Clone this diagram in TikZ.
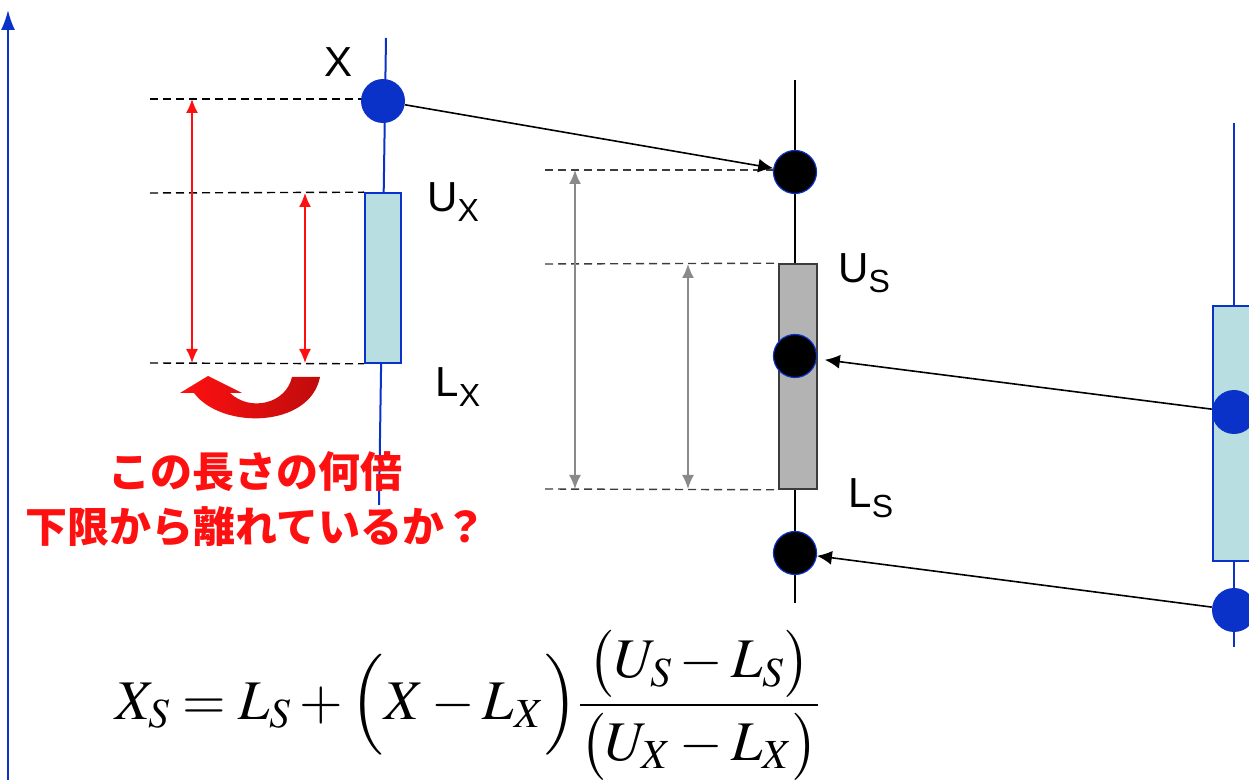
\documentclass[tikz,border=0pt]{standalone}
\usepackage{mathptmx}
\usepackage[no-math]{fontspec}
\setmainfont{Liberation Sans}
\newfontfamily\jp{Noto Sans CJK JP}
\usetikzlibrary{arrows.meta,backgrounds}
\definecolor{bl}{HTML}{0A32C8}
\definecolor{bf}{HTML}{B8DEE2}
\definecolor{gf}{HTML}{B3B3B3}
\definecolor{gb}{HTML}{3C3C3C}
\definecolor{ga}{HTML}{8A8A8A}
\definecolor{rd}{HTML}{FF1010}
\newcommand{\lab}[2]{#1\raisebox{-0.45ex}{\fontsize{16}{16}\selectfont #2}}

\begin{document}
\begin{tikzpicture}[x=0.5pt,y=-0.5pt,font=\fontsize{21}{24}\selectfont,
  bdot/.style={circle,fill=bl,inner sep=0pt,minimum size=22pt},
  kdot/.style={circle,fill=black,draw=bl,line width=0.6pt,inner sep=0pt,minimum size=21.5pt},
  xb/.style={draw=bl,fill=bf,line width=0.8pt,inner sep=0pt},
  sb/.style={draw=gb,fill=gf,line width=0.8pt,inner sep=0pt},
  lb/.style={anchor=base west,inner sep=0pt},
  dl/.style={dash pattern=on 4pt off 2.5pt,line width=0.7pt},
  ra/.style={{Latex[length=7pt,width=6pt]}-{Latex[length=7pt,width=6pt]},rd,line width=0.7pt},
  ga2/.style={{Latex[length=7pt,width=6pt]}-{Latex[length=7pt,width=6pt]},ga,line width=0.8pt},
  ba/.style={-{Latex[length=7.5pt,width=7pt]},line width=0.8pt}]
\useasboundingbox (0,0) rectangle (1249,780);
% value axis
\coordinate (ab) at (8,782);
\coordinate (at) at (8,10);
\draw[bl,line width=1pt,-{Latex[length=10pt,width=7pt]}] (ab) -- (at);
% left column (X)
\coordinate (xt) at (386,38);
\coordinate (xe) at (379,505);
\draw[bl,line width=1pt] (xt) -- (xe);
\node[xb,minimum width=18pt,minimum height=85pt] (bx) at (383,278) {};
\node[bdot] (x) at (383,101) {};
\node (xl) at (339,62) {X};
\node[lb] (ux) at (427,212) {\lab{U}{X}};
\node[lb] (lx) at (435,397) {\lab{L}{X}};
% middle column (S)
\coordinate (st) at (795,80);
\coordinate (se) at (795,603);
\draw[line width=0.8pt] (st) -- (se);
\node[sb,minimum width=19pt,minimum height=112.5pt] (bs) at (798,376.5) {};
\node[kdot] (s1) at (795,172) {};
\node[kdot] (s2) at (795,356) {};
\node[kdot] (s3) at (795,553) {};
\node[lb] (us) at (838,283) {\lab{U}{S}};
\node[lb] (ls) at (848,508) {\lab{L}{S}};
% right column
\coordinate (rt) at (1234,123);
\coordinate (re) at (1234,647);
\draw[bl,line width=1pt] (rt) -- (re);
\node[xb,minimum width=21pt,minimum height=127.5pt] (br) at (1234,433.5) {};
\node[bdot] (r1) at (1234,412) {};
\node[bdot] (r2) at (1234,610) {};
% guide lines
\coordinate (t1) at (150,99);
\coordinate (t2) at (150,193);
\coordinate (t3) at (150,363);
\coordinate (m1) at (545,170);
\coordinate (m2) at (545,264);
\coordinate (m3) at (545,489);
\begin{scope}[on background layer]
\draw[dl] (t1) -- (t1 -| x);
\draw[dl] (t2) -- (bx.north west);
\draw[dl] (t3) -- (bx.south west);
\draw[dl,gb] (m1) -- (m1 -| s1.west);
\draw[dl,gb] (m2) -- (bs.north west);
\draw[dl,gb] (m3) -- (bs.south west);
\end{scope}
\draw[ra] ([xshift=21pt]t1) -- ([xshift=21pt]t3);
\draw[ra] ([xshift=77.5pt]t2) -- ([xshift=77.5pt]t3);
\draw[ga2] ([xshift=15pt]m1) -- ([xshift=15pt]m3);
\draw[ga2] ([xshift=71.5pt]m2) -- ([xshift=71.5pt]m3);
% mapping arrows
\draw[ba] (x) -- (s1);
\draw[ba,shorten >=4pt] (r1) -- (s2);
\draw[ba] (r2) -- (s3);
% red turn arrow
\shade[left color=rd,right color=rd!75!black]
  (320,377) -- (292,377) .. controls (286,404) and (250,412) .. (230,393)
  -- (242,393) -- (208,376) -- (180,393) -- (194,393)
  .. controls (222,430) and (310,428) .. (320,377) -- cycle;
\node[rd,align=center,font=\jp\bfseries\fontsize{21}{27.5}\selectfont] (q) at (256,499)
  {この長さの何倍\\下限から離れているか？};
% formula
\node (f) at (468,705) {\fontsize{28}{32}\selectfont
  $\displaystyle X_S = L_S + \Bigl(X - L_X\Bigr)\frac{\bigl(U_S - L_S\bigr)}{\bigl(U_X - L_X\bigr)}$};
\end{tikzpicture}
\end{document}
